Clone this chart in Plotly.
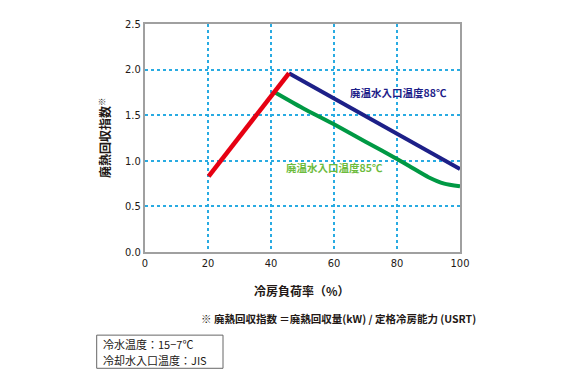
import plotly.graph_objects as go

# Data
red_x = [20.2, 45.7]
red_y = [0.83, 1.96]
blue_x = [45.7, 100]
blue_y = [1.96, 0.91]
green_x = [41.3, 50, 60, 70, 80, 84, 90, 95, 100]
green_y = [1.75, 1.58, 1.40, 1.21, 1.02, 0.94, 0.82, 0.75, 0.72]
x_ticks = [0, 20, 40, 60, 80, 100]
y_ticks = [0.0, 0.5, 1.0, 1.5, 2.0, 2.5]

FONT = "Noto Sans CJK JP"
INK = "#231815"
W, H = 580, 386
L, R, T, B = 145, 460, 23.5, 252.5

def px(x):
    return (x - L) / (R - L)

def py(y):
    return (B - y) / (B - T)

fig = go.Figure()
fig.add_trace(go.Scatter(x=green_x, y=green_y, mode="lines",
                         line=dict(color="#009944", width=4, shape="spline", smoothing=0.6)))
fig.add_trace(go.Scatter(x=blue_x, y=blue_y, mode="lines",
                         line=dict(color="#1d2088", width=4)))
fig.add_trace(go.Scatter(x=red_x, y=red_y, mode="lines",
                         line=dict(color="#e60012", width=4.5)))

grid = dict(showgrid=True, gridcolor="#29abe2", griddash="dot", gridwidth=1.5)
tickfont = dict(family="DejaVu Sans Condensed, Roboto", size=11, color=INK)
fig.update_xaxes(range=[0, 100], tickvals=x_ticks, ticktext=[str(v) for v in x_ticks],
                 showline=True, linecolor="#a0a0a0", linewidth=2, mirror=True,
                 zeroline=False, ticks="", tickfont=tickfont, **grid)
fig.update_yaxes(range=[0, 2.5], tickvals=y_ticks, ticktext=[f"{v:.1f}" for v in y_ticks],
                 showline=True, linecolor="#a0a0a0", linewidth=2, mirror=True,
                 zeroline=False, ticks="", tickfont=tickfont, **grid)

ann = []
ann.append(dict(x=398, y=92, text="<b>廃温水入口温度88℃</b>", font=dict(color="#1d2088", size=10.5, family=FONT)))
ann.append(dict(x=334, y=168, text="<b>廃温水入口温度85℃</b>", font=dict(color="#6cbb3c", size=10.5, family=FONT)))
ann.append(dict(x=104, y=138, text="<b>廃熱回収指数</b><sup>※</sup>", textangle=-90,
                font=dict(color=INK, size=12, family=FONT)))
ann.append(dict(x=302, y=291, text="<b>冷房負荷率（%）</b>", font=dict(color=INK, size=12, family=FONT)))
ann.append(dict(x=338.5, y=319, text="<b>※ 廃熱回収指数 ＝廃熱回収量(kW) / 定格冷房能力 (USRT)</b>",
                font=dict(color=INK, size=10.5, family=FONT)))
ann.append(dict(x=102, y=344.5, text="冷水温度：15−7℃", xanchor="left",
                font=dict(color=INK, size=11, family=FONT)))
ann.append(dict(x=102, y=361, text="冷却水入口温度：JIS", xanchor="left",
                font=dict(color=INK, size=11, family=FONT)))

annotations = []
for a in ann:
    d = dict(xref="paper", yref="paper", x=px(a["x"]), y=py(a["y"]), text=a["text"],
             showarrow=False, font=a["font"], xanchor=a.get("xanchor", "center"), yanchor="middle",
             borderpad=0)
    if "textangle" in a:
        d["textangle"] = a["textangle"]
    annotations.append(d)

fig.update_layout(
    width=W, height=H,
    margin=dict(l=L, r=W - R, t=T, b=H - B),
    paper_bgcolor="white", plot_bgcolor="white",
    showlegend=False,
    annotations=annotations,
    shapes=[dict(type="rect", xref="paper", yref="paper",
                 x0=px(96.7), x1=px(223), y0=py(369.3), y1=py(336),
                 line=dict(color="#666", width=1))],
)

fig.write_html("out.html", config={"displayModeBar": False},
               post_script="document.body.style.margin='0px';")
